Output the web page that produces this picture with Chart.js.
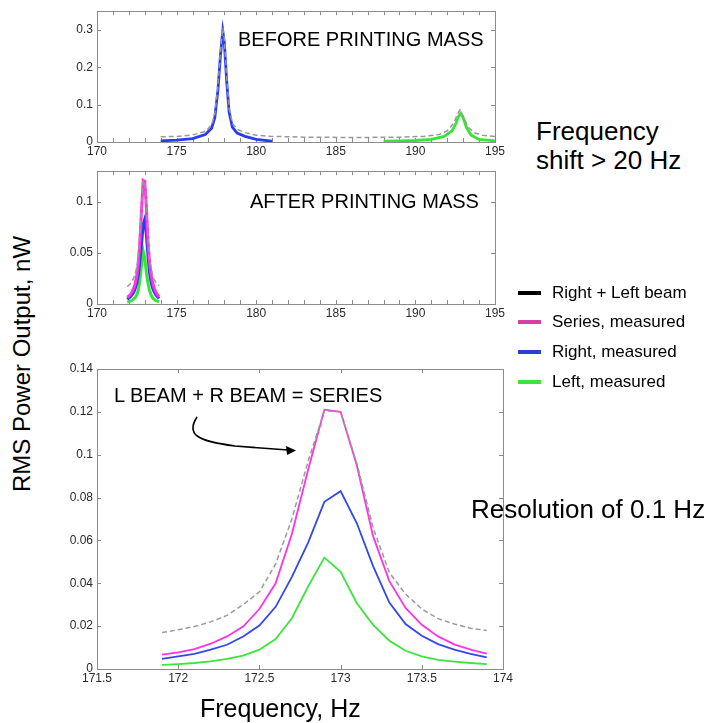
<!DOCTYPE html>
<html>
<head>
<meta charset="utf-8">
<script src="https://cdn.jsdelivr.net/npm/chart.js@4/dist/chart.umd.min.js"></script>
<style>
  html, body { margin: 0; padding: 0; background: #fff; }
  body { width: 719px; height: 723px; position: relative; overflow: hidden; font-family: "Liberation Sans", Arial, sans-serif; }
  .cv { position: absolute; }
  .txt { position: absolute; color: #000; white-space: nowrap; line-height: 1; }
  .leg { position: absolute; left: 518px; font-size: 17px; color: #000; white-space: nowrap; }
  .leg span.sw { position: absolute; left: 0; width: 23px; height: 4px; top: -2px; }
  .leg span.lb { position: absolute; left: 34px; top: -9px; line-height: 1; }
</style>
</head>
<body>
<canvas id="c1" class="cv" width="460" height="160" style="left:50px;top:0px"></canvas>
<canvas id="c2" class="cv" width="460" height="162" style="left:50px;top:160px"></canvas>
<canvas id="c3" class="cv" width="470" height="340" style="left:50px;top:355px"></canvas>

<div class="txt" style="left:238px;top:29px;font-size:20px">BEFORE PRINTING MASS</div>
<div class="txt" style="left:250px;top:191px;font-size:20px">AFTER PRINTING MASS</div>
<div class="txt" style="left:114px;top:385px;font-size:20px">L BEAM + R BEAM = SERIES</div>
<div class="txt" style="left:536px;top:118px;font-size:26px">Frequency</div>
<div class="txt" style="left:536px;top:147px;font-size:26px">shift &gt; 20 Hz</div>
<div class="txt" style="left:471px;top:496px;font-size:26px">Resolution of 0.1 Hz</div>
<div class="txt" style="left:200px;top:696px;font-size:25px">Frequency, Hz</div>
<div class="txt" style="left:22px;top:364px;font-size:24px;transform:translate(-50%,-50%) rotate(-90deg)">RMS Power Output, nW</div>

<div class="leg" style="top:293px"><span class="sw" style="background:#000"></span><span class="lb">Right + Left beam</span></div>
<div class="leg" style="top:322px"><span class="sw" style="background:#d83fa3"></span><span class="lb">Series, measured</span></div>
<div class="leg" style="top:352px"><span class="sw" style="background:#2b3fd6"></span><span class="lb">Right, measured</span></div>
<div class="leg" style="top:382px"><span class="sw" style="background:#3de43d"></span><span class="lb">Left, measured</span></div>

<svg style="position:absolute;left:0;top:0" width="719" height="723">
  <path d="M197,417 C186,434 196,441 235,446 L288,450" fill="none" stroke="#000" stroke-width="1.6"/>
  <polygon points="296,450.5 286,446 287,455" fill="#000"/>
</svg>

<script>
// ---------- DATA ----------
// Top panel (before printing mass)
const beforeRightX = [174, 175, 176, 176.8, 177.2, 177.4, 177.6, 177.75, 177.9, 178.0, 178.15, 178.3, 178.5, 178.8, 179.3, 180, 181];
const beforeRightY = [0.003, 0.005, 0.009, 0.02, 0.037, 0.065, 0.14, 0.23, 0.297, 0.265, 0.16, 0.08, 0.04, 0.024, 0.015, 0.007, 0.002];
const beforeLeftX = [188, 189, 190, 191, 191.8, 192.3, 192.55, 192.7, 192.85, 193.0, 193.2, 193.5, 194, 195];
const beforeLeftY = [0.002, 0.003, 0.004, 0.007, 0.015, 0.03, 0.05, 0.068, 0.077, 0.065, 0.04, 0.018, 0.007, 0.003];
const beforeSumX = [174, 175, 176, 176.8, 177.2, 177.4, 177.6, 177.75, 177.9, 178.0, 178.15, 178.3, 178.5, 178.8, 179.3, 180, 181, 183, 186, 189, 190.5, 191.5, 192, 192.4, 192.65, 192.8, 193, 193.3, 193.7, 194.2, 195];
const beforeSumY = [0.014, 0.015, 0.019, 0.028, 0.046, 0.075, 0.15, 0.24, 0.305, 0.275, 0.17, 0.09, 0.05, 0.034, 0.025, 0.018, 0.015, 0.013, 0.012, 0.013, 0.015, 0.02, 0.03, 0.05, 0.075, 0.086, 0.07, 0.04, 0.025, 0.018, 0.015];

// After printing mass (middle and bottom panels)
const afterFreq = [171.9, 172.0, 172.1, 172.2, 172.3, 172.4, 172.5, 172.6, 172.7, 172.8, 172.9, 173.0, 173.1, 173.2, 173.3, 173.4, 173.5, 173.6, 173.7, 173.8, 173.9];
const seriesMeasured = [0.0067, 0.0078, 0.0093, 0.0118, 0.0152, 0.0198, 0.028, 0.040, 0.063, 0.093, 0.121, 0.120, 0.095, 0.062, 0.041, 0.0285, 0.0206, 0.0152, 0.0115, 0.009, 0.0072];
const rightMeasured = [0.0047, 0.0059, 0.0071, 0.009, 0.0113, 0.0152, 0.0203, 0.029, 0.043, 0.059, 0.078, 0.083, 0.068, 0.048, 0.031, 0.021, 0.0155, 0.0116, 0.009, 0.0071, 0.0054];
const leftMeasured = [0.0019, 0.0023, 0.0028, 0.0036, 0.0047, 0.0062, 0.009, 0.014, 0.0237, 0.0385, 0.052, 0.0454, 0.0307, 0.0206, 0.0132, 0.0085, 0.0059, 0.0043, 0.0034, 0.0028, 0.0023];
const rightPlusLeft = [0.017, 0.0183, 0.0198, 0.022, 0.025, 0.030, 0.036, 0.049, 0.070, 0.097, 0.1205, 0.120, 0.096, 0.066, 0.045, 0.035, 0.028, 0.0235, 0.021, 0.019, 0.018];

// Tick values
const topXTicks = [170,171,172,173,174,175,176,177,178,179,180,181,182,183,184,185,186,187,188,189,190,191,192,193,194,195];
const topXLabels = [170, 175, 180, 185, 190, 195];
const topYTicks = [0, 0.1, 0.2, 0.3];
const midYTicks = [0, 0.05, 0.1];
const botXTicks = [171.5, 172, 172.5, 173, 173.5, 174];
const botYTicks = [0, 0.02, 0.04, 0.06, 0.08, 0.1, 0.12, 0.14];

// ---------- HELPERS ----------
const pts = (xs, ys) => xs.map((x, i) => ({ x: x, y: ys[i] }));
const fmt = v => String(Number(v.toFixed(4)));
const C = { blue: '#2a3cf2', magenta: '#ff33e6', green: '#33e633', gray: '#9a9a9a' };

const boxTicks = {
  id: 'boxTicks',
  beforeDatasetsDraw(chart) {
    const { ctx, chartArea: a, scales } = chart;
    ctx.save();
    ctx.strokeStyle = '#8c8c8c';
    ctx.lineWidth = 1;
    ctx.strokeRect(Math.round(a.left) + 0.5, Math.round(a.top) + 0.5, Math.round(a.right - a.left), Math.round(a.bottom - a.top));
    ctx.beginPath();
    const L = 4;
    scales.x.ticks.forEach(t => {
      const p = Math.round(scales.x.getPixelForValue(t.value)) + 0.5;
      ctx.moveTo(p, a.bottom); ctx.lineTo(p, a.bottom - L);
      ctx.moveTo(p, a.top); ctx.lineTo(p, a.top + L);
    });
    scales.y.ticks.forEach(t => {
      const p = Math.round(scales.y.getPixelForValue(t.value)) + 0.5;
      ctx.moveTo(a.left, p); ctx.lineTo(a.left + L, p);
      ctx.moveTo(a.right, p); ctx.lineTo(a.right - L, p);
    });
    ctx.stroke();
    ctx.restore();
  }
};

function makeChart(id, datasets, o) {
  return new Chart(document.getElementById(id), {
    type: 'line',
    data: { datasets: datasets },
    plugins: [boxTicks],
    options: {
      responsive: false,
      devicePixelRatio: 1,
      animation: false,
      layout: { padding: { top: o.padTop, right: o.padRight, left: 0, bottom: 0 } },
      plugins: { legend: { display: false }, tooltip: { enabled: false } },
      elements: { point: { radius: 0 }, line: { tension: 0 } },
      scales: {
        x: {
          type: 'linear', min: o.xMin, max: o.xMax,
          grid: { display: false, drawTicks: false }, border: { display: false },
          afterBuildTicks: s => { s.ticks = o.xTicks.map(v => ({ value: v })); },
          afterFit: s => { s.height = o.xH; },
          ticks: {
            autoSkip: false, maxRotation: 0, padding: 2,
            color: '#2a2a2a', font: { family: 'Liberation Sans', size: 12 },
            callback: v => (o.xLabels ? (o.xLabels.includes(v) ? fmt(v) : '') : fmt(v))
          }
        },
        y: {
          type: 'linear', min: 0, max: o.yMax,
          grid: { display: false, drawTicks: false }, border: { display: false },
          afterBuildTicks: s => { s.ticks = o.yTicks.map(v => ({ value: v })); },
          afterFit: s => { s.width = 47; },
          ticks: {
            autoSkip: false, padding: 4,
            color: '#2a2a2a', font: { family: 'Liberation Sans', size: 12 },
            callback: v => fmt(v)
          }
        }
      }
    }
  });
}

const dash = (data, w) => ({ data, borderColor: C.gray, borderWidth: w, borderDash: [5, 3], fill: false });
const solid = (data, color, w) => ({ data, borderColor: color, borderWidth: w, fill: false });

// Top panel
makeChart('c1', [
  dash(pts(beforeSumX, beforeSumY), 1.5),
  solid(pts(beforeRightX, beforeRightY), C.blue, 2.8),
  solid(pts(beforeLeftX, beforeLeftY), C.green, 2.8)
], { padTop: 8, padRight: 15, xMin: 170, xMax: 195, xTicks: topXTicks, xLabels: topXLabels, xH: 18, yMax: 0.35, yTicks: topYTicks });

// Middle panel
makeChart('c2', [
  dash(pts(afterFreq, rightPlusLeft), 1.5),
  solid(pts(afterFreq, seriesMeasured), C.magenta, 3),
  solid(pts(afterFreq, rightMeasured), C.blue, 3),
  solid(pts(afterFreq, leftMeasured), C.green, 3)
], { padTop: 9, padRight: 15, xMin: 170, xMax: 195, xTicks: topXTicks, xLabels: topXLabels, xH: 18, yMax: 0.13, yTicks: midYTicks });

// Bottom panel
makeChart('c3', [
  dash(pts(afterFreq, rightPlusLeft), 1.5),
  solid(pts(afterFreq, seriesMeasured), C.magenta, 1.8),
  solid(pts(afterFreq, rightMeasured), '#3446ee', 1.8),
  solid(pts(afterFreq, leftMeasured), '#3ee43e', 1.8)
], { padTop: 14, padRight: 17, xMin: 171.5, xMax: 174, xTicks: botXTicks, xLabels: null, xH: 26, yMax: 0.14, yTicks: botYTicks });
</script>
</body>
</html>
